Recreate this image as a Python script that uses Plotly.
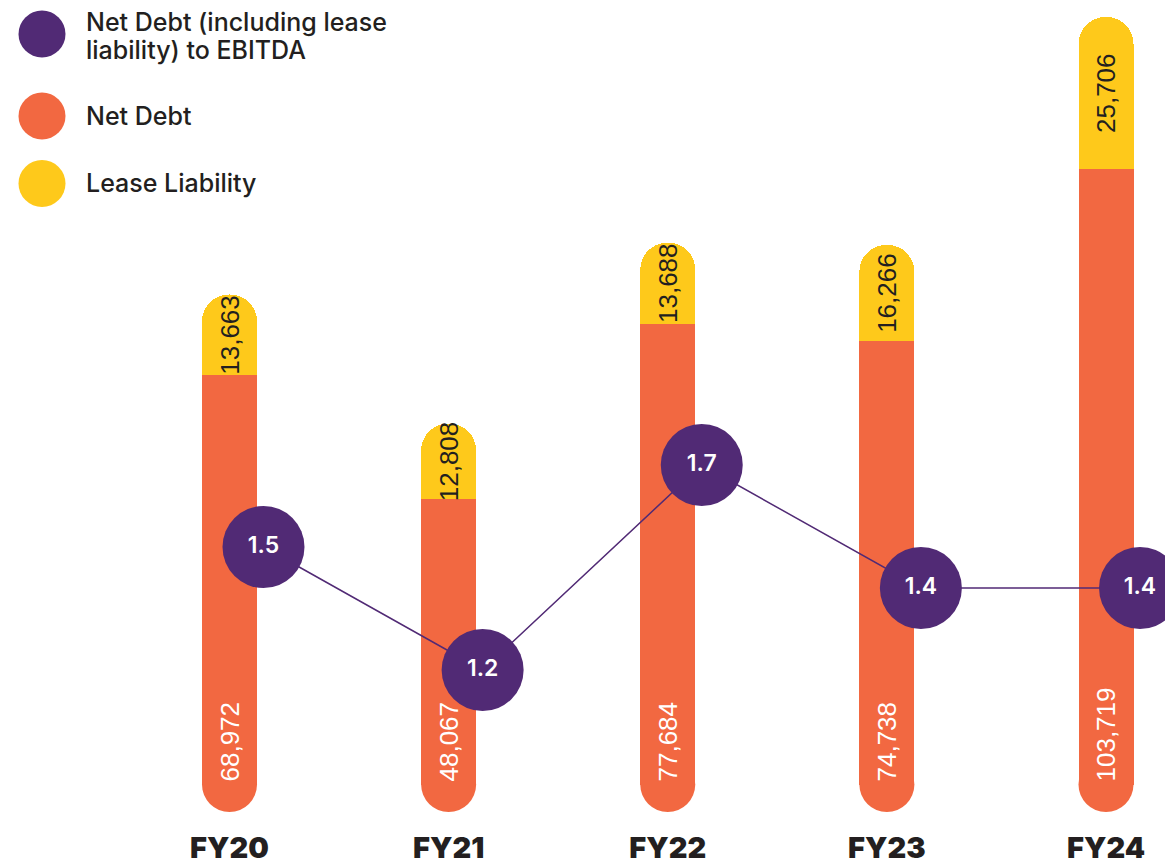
import plotly.graph_objects as go

# ---- data ----
years = ["FY20", "FY21", "FY22", "FY23", "FY24"]
net_debt = [68972, 48067, 77684, 74738, 103719]
lease_liability = [13663, 12808, 13688, 16266, 25706]
net_debt_to_ebitda = [1.5, 1.2, 1.7, 1.4, 1.4]
legend_labels = ["Net Debt (including lease<br>liability) to EBITDA", "Net Debt", "Lease Liability"]

# ---- style ----
PURPLE = "#512A75"
ORANGE = "#F26841"
YELLOW = "#FEC91B"
INK = "#231F20"
PAGE_W, PAGE_H = 1173, 868
OFF = 8                       # default page body margin
W, H = PAGE_W - OFF, PAGE_H - OFF
B_MARGIN = 40
PLOT_H = H - B_MARGIN
BAR_PX = 55
CAT_PX = 219.125
FIRST_PX = 229.5 - OFF
ZERO_PX = 784.5 - OFF
TOP_PX = 17 - OFF
R_REF_PX = 547 - OFF
R_PX_PER_UNIT = 410

n = len(years)
x_rng = [-FIRST_PX / CAT_PX, (n - 1) + (W - (FIRST_PX + (n - 1) * CAT_PX)) / CAT_PX]
shift = 34 / CAT_PX
totals = [a + b for a, b in zip(net_debt, lease_liability)]
k = (ZERO_PX - TOP_PX) / max(totals)
y_rng = [-(PLOT_H - ZERO_PX) / k, ZERO_PX / k]
r_rng = [1.5 - (PLOT_H - R_REF_PX) / R_PX_PER_UNIT, 1.5 + R_REF_PX / R_PX_PER_UNIT]
bar_w = BAR_PX / CAT_PX

num_font = dict(family="Liberation Sans, Arial, sans-serif", size=26)

fig = go.Figure()

# rounded base caps (drawn underneath the bars)
fig.add_trace(go.Scatter(
    x=years, y=[0] * n, mode="markers", xaxis="x", yaxis="y",
    marker=dict(size=BAR_PX, color=ORANGE, line=dict(width=0)),
    hoverinfo="skip", showlegend=False, cliponaxis=False))

fig.add_trace(go.Bar(
    x=years, y=net_debt, name="Net Debt", xaxis="x2", yaxis="y2",
    width=bar_w, marker=dict(color=ORANGE, line=dict(width=0)),
    text=[f"{v:,}" for v in net_debt], textposition="inside",
    insidetextanchor="start", textangle=-90,
    textfont=dict(color="white", **num_font), showlegend=False))

fig.add_trace(go.Bar(
    x=years, y=lease_liability, name="Lease Liability", xaxis="x2", yaxis="y2",
    width=bar_w, marker=dict(color=YELLOW, line=dict(width=0)),
    text=[f"{v:,}" for v in lease_liability], textposition="inside",
    insidetextanchor="middle", textangle=-90,
    textfont=dict(color=INK, **num_font), showlegend=False))

fig.add_trace(go.Scatter(
    x=years, y=net_debt_to_ebitda, name="Net Debt (including lease liability) to EBITDA",
    xaxis="x3", yaxis="y3", mode="lines+markers+text",
    line=dict(color=PURPLE, width=1.5),
    marker=dict(size=82, color=PURPLE, line=dict(width=0)),
    text=[f"{v:.1f}" for v in net_debt_to_ebitda], textposition="middle center",
    textfont=dict(color="white", size=23, family="Inter, sans-serif", weight=600),
    cliponaxis=False, showlegend=False))

hidden = dict(visible=False, showgrid=False, zeroline=False, fixedrange=True)

fig.update_layout(
    width=W, height=H, template="none",
    margin=dict(l=0, r=0, t=0, b=B_MARGIN, pad=0),
    paper_bgcolor="white", plot_bgcolor="white",
    barmode="stack", barcornerradius="50%",
    uniformtext=dict(minsize=26, mode="show"),
    showlegend=False,
    xaxis=dict(type="category", categoryarray=years, range=x_rng, showgrid=False,
               zeroline=False, showline=False, ticks="", automargin=False,
               tickfont=dict(family="Inter, sans-serif", size=29, color=INK, weight=900),
               ticklabelstandoff=0),
    yaxis=dict(range=y_rng, **hidden),
    xaxis2=dict(type="category", categoryarray=years, range=x_rng, overlaying="x", **hidden),
    yaxis2=dict(range=y_rng, overlaying="y", **hidden),
    xaxis3=dict(type="category", categoryarray=years,
                range=[x_rng[0] - shift, x_rng[1] - shift], overlaying="x", **hidden),
    yaxis3=dict(range=r_rng, overlaying="y", **hidden),
)

# manual legend (page pixel positions, corrected for body margin)
leg_colors = [PURPLE, ORANGE, YELLOW]
leg_y_px = [34 - OFF, 116 - OFF, 183.5 - OFF]
R = 23.5
CX = 42 - OFF
TX = 84 - OFF
LINE_PITCH = 27.5
leg_font = dict(family="Inter, sans-serif", size=25, color=INK, weight=500)
for lab, col, ypx in zip(legend_labels, leg_colors, leg_y_px):
    fig.add_shape(type="circle", xref="paper", yref="paper",
                  x0=(CX - R) / W, x1=(CX + R) / W,
                  y0=1 - (ypx + R) / PLOT_H, y1=1 - (ypx - R) / PLOT_H,
                  fillcolor=col, line=dict(width=0))
    lines = lab.split("<br>")
    first = ypx - LINE_PITCH * (len(lines) - 1) / 2 + (2 if len(lines) > 1 else 0)
    for i, ln in enumerate(lines):
        fig.add_annotation(xref="paper", yref="paper", x=TX / W,
                           y=1 - (first + i * LINE_PITCH) / PLOT_H,
                           xanchor="left", yanchor="middle", align="left", showarrow=False,
                           text=ln, font=leg_font)

fig.write_html("out.html")
